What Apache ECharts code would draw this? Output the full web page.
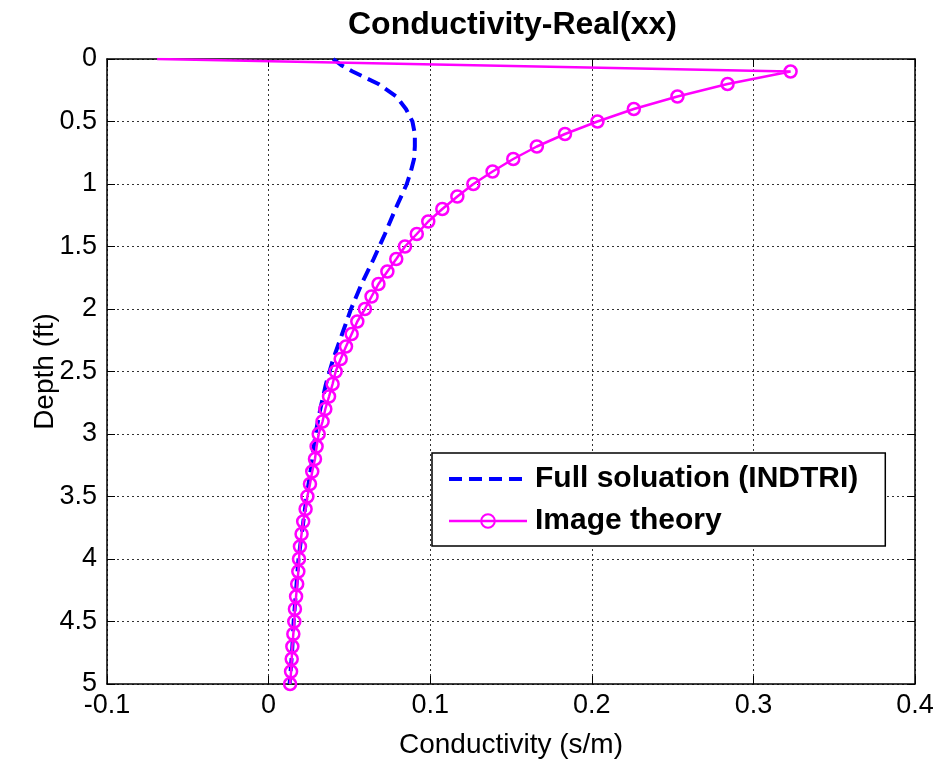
<!DOCTYPE html>
<html>
<head>
<meta charset="utf-8">
<script src="https://cdn.jsdelivr.net/npm/echarts@6/dist/echarts.min.js"></script>
<style>html,body{margin:0;padding:0;background:#fff}#c{width:941px;height:767px}</style>
</head>
<body>
<div id="c"></div>
<script>
var titleText = 'Conductivity-Real(xx)';
var xName = 'Conductivity (s/m)';
var yName = 'Depth (ft)';
var seriesNames = ['Full soluation (INDTRI)', 'Image theory'];

var fullDepth = [0, 0.05, 0.1, 0.2, 0.3, 0.4, 0.5, 0.6, 0.7, 0.8, 0.9, 1.0, 1.2, 1.4, 1.6, 1.8, 2.0, 2.2, 2.4, 2.6, 2.8, 3.0, 3.25, 3.5, 3.75, 4.0, 4.25, 4.5, 4.75, 5.0];
var fullCond  = [0.040, 0.045, 0.052, 0.068, 0.079, 0.085, 0.089, 0.0905, 0.0905, 0.090, 0.088, 0.0855, 0.0785, 0.072, 0.065, 0.0575, 0.051, 0.0455, 0.040, 0.0355, 0.032, 0.029, 0.0265, 0.0235, 0.021, 0.0185, 0.017, 0.0155, 0.0145, 0.013];

var imgDepth = [0, 0.1, 0.2, 0.3, 0.4, 0.5, 0.6, 0.7, 0.8, 0.9, 1.0, 1.1, 1.2, 1.3, 1.4, 1.5, 1.6, 1.7, 1.8, 1.9, 2.0, 2.1, 2.2, 2.3, 2.4, 2.5, 2.6, 2.7, 2.8, 2.9, 3.0, 3.1, 3.2, 3.3, 3.4, 3.5, 3.6, 3.7, 3.8, 3.9, 4.0, 4.1, 4.2, 4.3, 4.4, 4.5, 4.6, 4.7, 4.8, 4.9, 5.0];
var imgCond  = [-0.069, 0.323, 0.284, 0.253, 0.226, 0.2035, 0.1834, 0.166, 0.1514, 0.1386, 0.1267, 0.1168, 0.1075, 0.0988, 0.0917, 0.0844, 0.0790, 0.0735, 0.0680, 0.0637, 0.0596, 0.0549, 0.0514, 0.0479, 0.0446, 0.0415, 0.0396, 0.0374, 0.0351, 0.0334, 0.0310, 0.0297, 0.0287, 0.0270, 0.0256, 0.0240, 0.0229, 0.0214, 0.0204, 0.0194, 0.0188, 0.0184, 0.0177, 0.0170, 0.0163, 0.0159, 0.0153, 0.0147, 0.0143, 0.0139, 0.0133];

var FONT = '"Liberation Sans", Arial, Helvetica, sans-serif';

var fullData = fullDepth.map(function (d, i) { return [fullCond[i], d]; });
var imgData = imgDepth.map(function (d, i) {
  if (i === 0) return { value: [imgCond[i], d], symbol: 'none' };
  return [imgCond[i], d];
});

var chart = echarts.init(document.getElementById('c'), null, { renderer: 'canvas' });

var gridLine = { show: true, lineStyle: { color: '#333', type: [2, 3], width: 1 } };
var axLine = { show: true, onZero: false, lineStyle: { color: '#000', width: 1.5 } };

chart.setOption({
  backgroundColor: '#fff',
  animation: false,
  title: {
    text: titleText,
    left: 343,
    top: 4,
    textStyle: { fontFamily: FONT, fontWeight: 'bold', fontSize: 32, color: '#000' }
  },
  grid: { left: 107, right: 26, top: 59, bottom: 83, containLabel: false },
  legend: {
    orient: 'vertical',
    left: 432,
    top: 453,
    padding: [11, 27, 10, 15],
    itemGap: 12,
    itemWidth: 78,
    itemHeight: 17,
    backgroundColor: '#fff',
    borderColor: '#000',
    borderWidth: 1.5,
    borderRadius: 0,
    selectedMode: false,
    textStyle: { fontFamily: FONT, fontWeight: 'bold', fontSize: 30, color: '#000', padding: [0, 0, 0, 3] },
    data: [
      { name: seriesNames[0], lineStyle: { width: 4, type: [13, 7] }, itemStyle: { opacity: 0 } },
      { name: seriesNames[1], lineStyle: { width: 2.5 } }
    ]
  },
  xAxis: [{
    type: 'value', min: -0.1, max: 0.4, interval: 0.1, position: 'bottom',
    name: xName, nameLocation: 'middle', nameGap: 47, nameMoveOverlap: false,
    nameTextStyle: { fontFamily: FONT, fontSize: 28, color: '#000' },
    axisLine: axLine,
    axisTick: { show: true, inside: true, length: 8, lineStyle: { color: '#000' } },
    axisLabel: { fontFamily: FONT, fontSize: 27, color: '#000', margin: 8 },
    splitLine: gridLine
  }, {
    type: 'value', min: -0.1, max: 0.4, interval: 0.1, position: 'top',
    axisLine: axLine,
    axisTick: { show: true, inside: true, length: 8, lineStyle: { color: '#000' } },
    axisLabel: { show: false },
    splitLine: { show: false }
  }],
  yAxis: [{
    type: 'value', inverse: true, min: 0, max: 5, interval: 0.5, position: 'left',
    name: yName, nameLocation: 'middle', nameGap: 48, nameRotate: 90, nameMoveOverlap: false,
    nameTextStyle: { fontFamily: FONT, fontSize: 28, color: '#000' },
    axisLine: axLine,
    axisTick: { show: true, inside: true, length: 8, lineStyle: { color: '#000' } },
    axisLabel: { fontFamily: FONT, fontSize: 27, color: '#000', margin: 10 },
    splitLine: gridLine
  }, {
    type: 'value', inverse: true, min: 0, max: 5, interval: 0.5, position: 'right',
    axisLine: axLine,
    axisTick: { show: true, inside: true, length: 8, lineStyle: { color: '#000' } },
    axisLabel: { show: false },
    splitLine: { show: false }
  }],
  series: [{
    name: seriesNames[0],
    type: 'line',
    xAxisIndex: 0, yAxisIndex: 0,
    data: fullData,
    symbol: 'none',
    showSymbol: false,
    smooth: false,
    lineStyle: { color: '#0000ff', width: 4, type: [13, 7] },
    itemStyle: { color: '#0000ff' },
    z: 2
  }, {
    name: seriesNames[1],
    type: 'line',
    xAxisIndex: 0, yAxisIndex: 0,
    data: imgData,
    symbol: 'circle',
    symbolSize: 12,
    showAllSymbol: true,
    smooth: false,
    lineStyle: { color: '#ff00ff', width: 2.5 },
    itemStyle: { color: 'rgba(255,255,255,0)', borderColor: '#ff00ff', borderWidth: 2.5 },
    z: 3
  }]
});
</script>
</body>
</html>
